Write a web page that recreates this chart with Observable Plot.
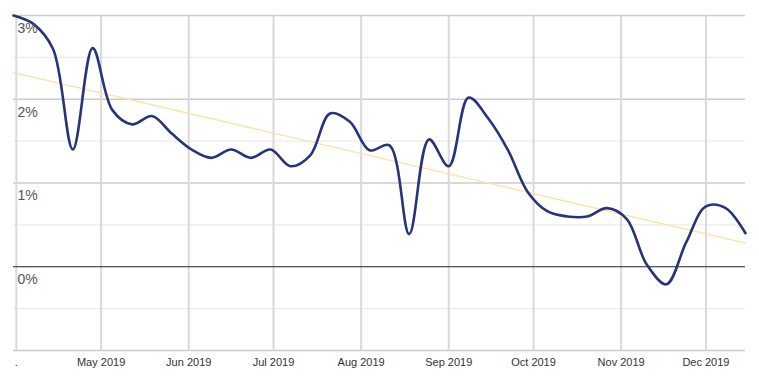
<!DOCTYPE html>
<html>
<head>
<meta charset="utf-8">
<script src="https://cdn.jsdelivr.net/npm/d3@7"></script>
<script src="https://cdn.jsdelivr.net/npm/@observablehq/plot@0.6"></script>
<style>
  html, body { margin: 0; padding: 0; background: #fff; }
  #chart svg { display: block; }
</style>
</head>
<body>
<div id="chart"></div>
<script>
const dates = [
  "2019-03-31","2019-04-07","2019-04-14","2019-04-21","2019-04-28",
  "2019-05-05","2019-05-12","2019-05-19","2019-05-26",
  "2019-06-02","2019-06-09","2019-06-16","2019-06-23","2019-06-30",
  "2019-07-07","2019-07-14","2019-07-21","2019-07-28",
  "2019-08-04","2019-08-11","2019-08-18","2019-08-25",
  "2019-09-01","2019-09-08","2019-09-15","2019-09-22","2019-09-29",
  "2019-10-06","2019-10-13","2019-10-20","2019-10-27",
  "2019-11-03","2019-11-10","2019-11-17","2019-11-24",
  "2019-12-01","2019-12-08","2019-12-15"
];
const values = [
  3.00, 2.90, 2.60, 1.40, 2.61,
  1.87, 1.70, 1.80, 1.59,
  1.40, 1.30, 1.40, 1.30, 1.40,
  1.20, 1.33, 1.83, 1.73,
  1.39, 1.45, 0.39, 1.52,
  1.20, 2.02, 1.77, 1.39, 0.89,
  0.66, 0.60, 0.60, 0.70,
  0.57, 0.03, -0.21, 0.29,
  0.72, 0.70, 0.40
];
const monthTicks = [
  "2019-04-01","2019-05-01","2019-06-01","2019-07-01","2019-08-01",
  "2019-09-01","2019-10-01","2019-11-01","2019-12-01"
];
const monthLabels = [".", "May 2019", "Jun 2019", "Jul 2019", "Aug 2019",
  "Sep 2019", "Oct 2019", "Nov 2019", "Dec 2019"];
const yMajor = [-1, 0, 1, 2, 3];
const yMinor = [-0.5, 0.5, 1.5, 2.5];
const yLabels = [0, 1, 2, 3];

const data = dates.map((d, i) => ({date: new Date(d), value: values[i]}));
const ticks = monthTicks.map(d => new Date(d));
const labelOf = new Map(ticks.map((t, i) => [+t, monthLabels[i]]));
const start = new Date(dates[0]);
const end = new Date(dates[dates.length - 1]);

const chart = Plot.plot({
  width: 759,
  height: 386,
  marginTop: 15,
  marginBottom: 36,
  marginLeft: 13,
  marginRight: 14,
  style: {fontFamily: "'Liberation Sans', Arial, sans-serif", background: "#fff"},
  x: {type: "utc", domain: [start, end]},
  y: {domain: [-1, 3], axis: null},
  marks: [
    Plot.ruleY(yMinor, {stroke: "#ebebeb", strokeWidth: 1.2}),
    Plot.ruleY(yMajor.filter(v => v !== 0), {stroke: "#cccccc", strokeWidth: 1.3}),
    Plot.ruleX(ticks, {y1: -1, y2: 3, stroke: "#d9d9d9", strokeWidth: 2}),
    Plot.ruleY([0], {stroke: "#222", strokeWidth: 1.2}),
    Plot.linearRegressionY(data, {x: "date", y: "value", ci: 0, stroke: "#fde2a0", strokeWidth: 1.3}),
    Plot.line(data, {x: "date", y: "value", curve: "catmull-rom", stroke: "#28347a", strokeWidth: 2.6}),
    Plot.text(yLabels, {x: start, y: d => d, text: d => d + "%", textAnchor: "start", dx: 4, dy: 13, fontSize: 14, fill: "#555"}),
    Plot.axisX({ticks: ticks, tickSize: 0, tickPadding: 8, fontSize: 11, fill: "#333", tickFormat: d => labelOf.get(+d) ?? ""}),
  ]
});
document.getElementById("chart").append(chart);
</script>
</body>
</html>
